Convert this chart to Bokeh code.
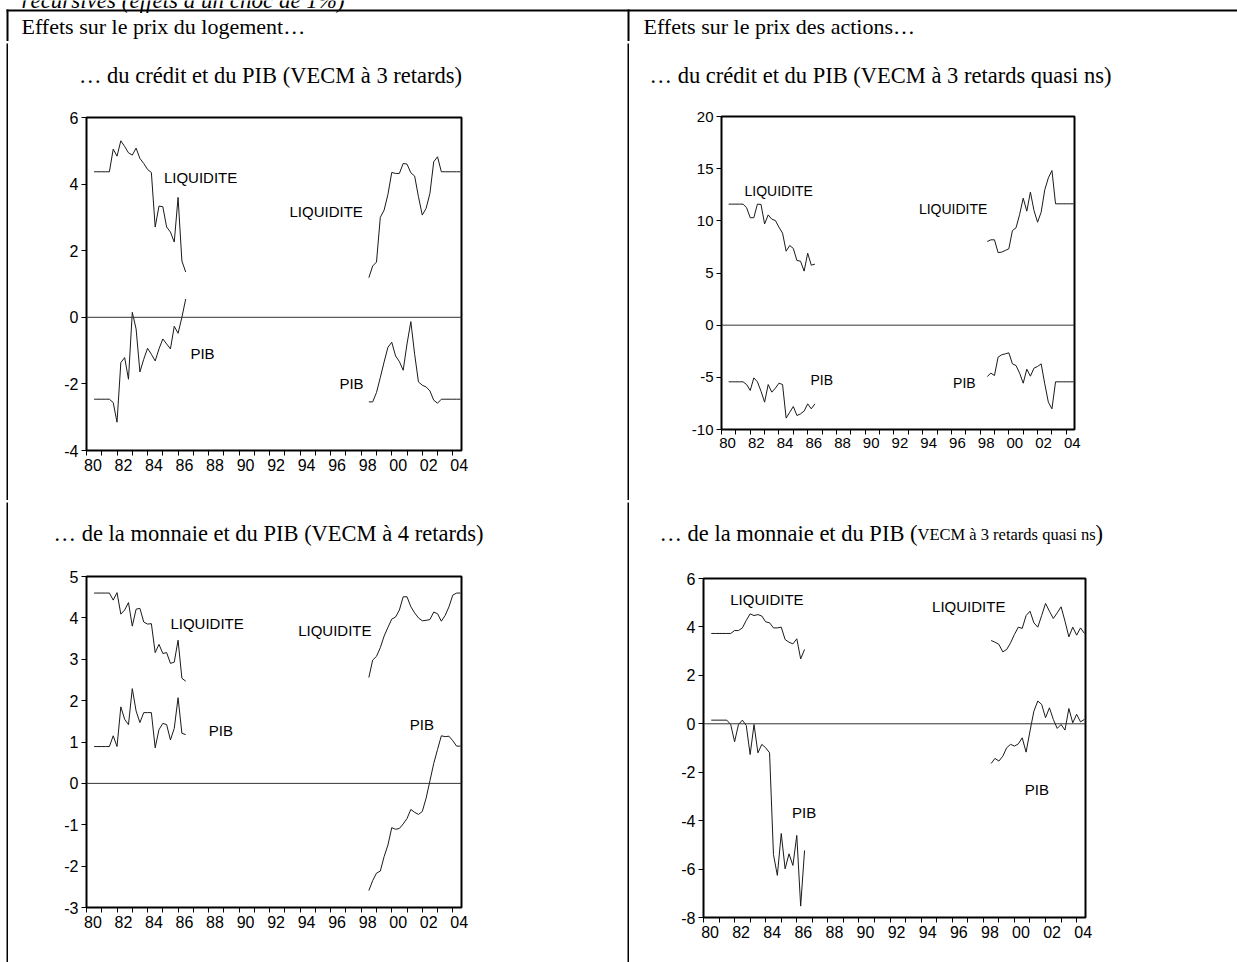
import pandas as pd
from bokeh.plotting import figure
from bokeh.layouts import column, row, Spacer
from bokeh.models import Range1d, FixedTicker, CustomJSTickFormatter, Span
from bokeh.core.properties import value
from bokeh.embed import file_html
from bokeh.resources import INLINE

# ---------------------------------------------------------------- data
# Two estimation windows, quarterly
early_periods = pd.period_range("1980Q3", "1986Q3", freq="Q")
late_periods = pd.period_range("1998Q3", "2004Q3", freq="Q")

# Housing prices: credit and GDP shocks (VECM, 3 lags)
hc_liq_early = [4.37, 4.37, 4.37, 4.37, 4.37, 5.05, 4.84, 5.30, 5.13, 4.94, 4.87, 5.08, 4.77,
                4.62, 4.44, 4.35, 2.71, 3.34, 3.32, 2.71, 2.56, 2.26, 3.60, 1.69, 1.36]
hc_liq_late = [1.19, 1.54, 1.66, 3.00, 3.22, 3.69, 4.35, 4.32, 4.32, 4.62, 4.60, 4.34, 4.24,
               3.62, 3.07, 3.27, 3.72, 4.67, 4.82, 4.37, 4.37, 4.37, 4.37, 4.37, 4.37]
hc_pib_early = [-2.46, -2.46, -2.46, -2.46, -2.46, -2.56, -3.15, -1.36, -1.21, -1.86, 0.15, -0.35, -1.64,
                -1.26, -0.93, -1.11, -1.31, -0.95, -0.65, -0.80, -0.95, -0.27, -0.48, 0.00, 0.55]
hc_pib_late = [-2.54, -2.54, -2.26, -1.81, -1.34, -0.90, -0.75, -1.16, -1.33, -1.59, -0.80, -0.13, -1.11,
               -1.94, -2.04, -2.09, -2.21, -2.49, -2.58, -2.46, -2.46, -2.46, -2.46, -2.46, -2.46]

# Stock prices: credit and GDP shocks (VECM, 3 lags)
sc_liq_early = [11.6, 11.6, 11.6, 11.6, 11.6, 11.25, 10.3, 10.3, 11.6, 11.57, 9.7, 10.57, 10.16,
                10.03, 9.39, 8.82, 7.09, 7.64, 7.35, 6.2, 6.13, 5.18, 6.9, 5.75, 5.85]
sc_liq_late = [8.02, 8.18, 8.18, 6.96, 7.0, 7.16, 7.32, 9.07, 9.33, 10.6, 12.17, 10.93, 12.75,
               10.99, 9.87, 10.83, 12.97, 14.12, 14.82, 11.63, 11.63, 11.63, 11.63, 11.63, 11.63]
sc_pib_early = [-5.43, -5.43, -5.43, -5.43, -5.43, -5.69, -6.26, -5.05, -5.43, -6.33, -7.38, -5.69, -6.42,
                -6.04, -5.56, -5.69, -8.91, -8.34, -7.8, -8.66, -8.5, -8.24, -7.54, -8.02, -7.54]
sc_pib_late = [-4.92, -4.6, -4.82, -3.07, -2.84, -2.75, -2.65, -3.71, -3.87, -4.6, -5.56, -4.22, -4.89,
               -4.12, -3.96, -3.71, -5.62, -7.38, -8.02, -5.43, -5.43, -5.43, -5.43, -5.43, -5.43]

# Housing prices: money and GDP shocks (VECM, 4 lags)
hm_liq_early = [4.6, 4.6, 4.6, 4.6, 4.6, 4.43, 4.61, 4.09, 4.19, 4.37, 3.8, 4.21, 4.23,
                3.9, 3.85, 3.86, 3.16, 3.36, 3.14, 3.16, 2.9, 2.93, 3.46, 2.54, 2.47]
hm_liq_late = [2.56, 2.98, 3.07, 3.28, 3.56, 3.77, 3.97, 4.02, 4.19, 4.51, 4.51, 4.27, 4.12,
               4.0, 3.93, 3.94, 3.96, 4.14, 4.1, 3.92, 4.06, 4.27, 4.55, 4.6, 4.6]
hm_pib_early = [0.89, 0.89, 0.89, 0.89, 0.89, 1.15, 0.89, 1.85, 1.55, 1.42, 2.29, 1.75, 1.47,
                1.71, 1.71, 1.71, 0.86, 1.3, 1.45, 1.42, 1.05, 1.33, 2.07, 1.21, 1.18]
hm_pib_late = [-2.59, -2.35, -2.17, -2.12, -1.77, -1.49, -1.07, -1.11, -1.09, -0.98, -0.85, -0.63, -0.7,
               -0.75, -0.68, -0.36, 0.06, 0.48, 0.82, 1.15, 1.13, 1.14, 1.03, 0.9, 0.9]

# Stock prices: money and GDP shocks (VECM, 3 lags)
sm_liq_early = [3.73, 3.73, 3.73, 3.73, 3.73, 3.73, 3.85, 3.85, 3.96, 4.27, 4.54, 4.47, 4.51,
                4.45, 4.21, 4.17, 3.96, 3.96, 3.99, 3.48, 3.37, 3.3, 3.51, 2.68, 3.07]
sm_liq_late = [3.44, 3.37, 3.28, 2.97, 3.07, 3.34, 3.69, 3.99, 3.94, 4.47, 4.65, 4.17, 3.99,
               4.47, 4.97, 4.65, 4.35, 4.58, 4.83, 4.24, 3.59, 3.99, 3.66, 3.96, 3.73]
sm_pib_early = [0.15, 0.15, 0.15, 0.15, 0.15, -0.03, -0.74, -0.03, 0.15, -0.07, -1.27, -0.03, -1.2,
                -0.85, -0.99, -1.2, -5.4, -6.26, -4.53, -5.99, -5.37, -5.85, -4.61, -7.53, -5.23]
sm_pib_late = [-1.64, -1.43, -1.54, -1.34, -0.99, -0.85, -0.92, -0.83, -0.58, -1.17, -0.3, 0.52, 0.94,
               0.8, 0.25, 0.66, 0.18, -0.19, -0.03, -0.26, 0.63, 0.04, 0.39, 0.08, 0.18]

# Axes
year_ticks = list(range(1980, 2005))
labelled_years = list(range(1980, 2005, 2))
hc_y_ticks = [-4, -2, 0, 2, 4, 6]
sc_y_ticks = [-10, -5, 0, 5, 10, 15, 20]
hm_y_ticks = [-3, -2, -1, 0, 1, 2, 3, 4, 5]
sm_y_ticks = [-8, -6, -4, -2, 0, 2, 4, 6]

SERIF = value("Liberation Serif")
SANS = value("Liberation Sans")


def decimal_year(periods):
    return [p.year + (p.quarter - 1) / 4 for p in periods]


x_early = decimal_year(early_periods)
x_late = decimal_year(late_periods)


def bare(w, h, **kw):
    f = figure(width=w, height=h, x_axis_type=None, y_axis_type=None,
               toolbar_location=None, output_backend="svg", min_border=0,
               outline_line_color=None, frame_align=False, **kw)
    f.grid.visible = False
    return f


def rule(w, h):
    return bare(w, h, background_fill_color="black", border_fill_color="black")


def title_panel(w, h, parts):
    f = bare(w, h, x_range=Range1d(0, w), y_range=Range1d(h, 0))
    for x, y, txt, size, align in parts:
        f.text(x=[x], y=[y], text=[txt], text_font=SERIF, text_font_size=size,
               text_align=align, text_baseline="middle", text_color="black")
    return f


def chart(w, h, borders, y_lim, y_ticks, series, labels, font_px=16, label_px=15):
    left, right, top, bottom = borders
    p = figure(width=w, height=h, x_range=Range1d(1980, 2004.57), y_range=Range1d(*y_lim),
               output_backend="svg", toolbar_location=None, frame_align=False,
               min_border_left=left, min_border_right=right,
               min_border_top=top, min_border_bottom=bottom,
               outline_line_color="black", outline_line_width=2,
               background_fill_color="white", border_fill_color="white")
    p.grid.visible = False

    xa = p.xaxis[0]
    xa.ticker = FixedTicker(ticks=[yr + 0.42 for yr in labelled_years], minor_ticks=year_ticks)
    xa.formatter = CustomJSTickFormatter(code="return String(Math.floor(tick) % 100).padStart(2, '0');")
    xa.major_tick_line_color = None
    xa.major_tick_out = 5
    xa.major_tick_in = 0
    xa.minor_tick_line_color = "black"
    xa.minor_tick_out = 5
    xa.minor_tick_in = 0
    xa.major_label_standoff = 3

    ya = p.yaxis[0]
    ya.ticker = FixedTicker(ticks=y_ticks)
    ya.formatter = CustomJSTickFormatter(code="return String(tick);")
    ya.major_tick_line_color = "black"
    ya.major_tick_out = 5
    ya.major_tick_in = 0
    ya.minor_tick_line_color = None
    ya.major_label_standoff = 3

    for ax in (xa, ya):
        ax.axis_line_color = None
        ax.major_label_text_font = "Liberation Sans"
        ax.major_label_text_font_size = f"{font_px}px"
        ax.major_label_text_color = "black"

    p.add_layout(Span(location=0, dimension="width", line_color="#333333", line_width=1))

    for xs, ys in series:
        p.line(xs, ys, line_color="#1a1a1a", line_width=1)

    for x, y, txt in labels:
        p.text(x=[x], y=[y], text=[txt], text_font=SANS, text_font_size=f"{label_px}px",
               text_baseline="middle", text_align="left", text_color="black")
    return p


# ---------------------------------------------------------------- page header
head = bare(1237, 41, x_range=Range1d(0, 1237), y_range=Range1d(41, 0))
head.quad(left=[6, 6, 627], right=[1237, 8, 629], top=[9, 9, 9], bottom=[11, 41, 41],
          color="black", line_color=None)
head.text(x=[21], y=[-0.5], text=["récursives (effets à un choc de 1%)"], text_font=SERIF,
          text_font_style="italic", text_font_size="23px", text_baseline="middle",
          text_color="black")
head.text(x=[21, 643], y=[26, 26],
          text=["Effets sur le prix du logement…", "Effets sur le prix des actions…"],
          text_font=SERIF, text_font_size="22px", text_baseline="middle", text_color="black")

# ---------------------------------------------------------------- panels
tl = column(
    title_panel(619, 62, [(262, 32, "… du crédit et du PIB (VECM à 3 retards)", "22.5px", "center")]),
    chart(619, 395, (78, 166, 12, 50), (-4, 6), hc_y_ticks,
          [(x_early, hc_liq_early), (x_late, hc_liq_late), (x_early, hc_pib_early), (x_late, hc_pib_late)],
          [(1985.07, 4.2, "LIQUIDITE"), (1993.3, 3.17, "LIQUIDITE"), (1986.81, -1.1, "PIB"), (1996.57, -2.0, "PIB")]),
    spacing=0)

tr = column(
    title_panel(608, 62, [(251, 32, "… du crédit et du PIB (VECM à 3 retards quasi ns)", "22.5px", "center")]),
    chart(608, 395, (92, 163, 11, 71), (-10, 20), sc_y_ticks,
          [(x_early, sc_liq_early), (x_late, sc_liq_late), (x_early, sc_pib_early), (x_late, sc_pib_late)],
          [(1981.6, 12.84, "LIQUIDITE"), (1993.74, 11.09, "LIQUIDITE"), (1986.19, -5.24, "PIB"), (1996.12, -5.5, "PIB")],
          font_px=15, label_px=14),
    spacing=0)

bl = column(
    title_panel(619, 62, [(260, 31, "… de la monnaie et du PIB (VECM à 4 retards)", "22.5px", "center")]),
    chart(619, 398, (78, 166, 12, 55), (-3, 5), hm_y_ticks,
          [(x_early, hm_liq_early), (x_late, hm_liq_late), (x_early, hm_pib_early), (x_late, hm_pib_late)],
          [(1985.5, 3.86, "LIQUIDITE"), (1993.87, 3.69, "LIQUIDITE"), (1988.01, 1.29, "PIB"), (2001.18, 1.43, "PIB")]),
    spacing=0)

br = column(
    title_panel(608, 62, [(288, 31, "… de la monnaie et du PIB (", "22.5px", "right"),
                          (288, 32, "VECM à 3 retards quasi ns", "16.5px", "left"),
                          (466, 31, ")", "22.5px", "left")]),
    chart(608, 398, (74, 152, 14, 45), (-8, 6), sm_y_ticks,
          [(x_early, sm_liq_early), (x_late, sm_liq_late), (x_early, sm_pib_early), (x_late, sm_pib_late)],
          [(1981.72, 5.13, "LIQUIDITE"), (1994.7, 4.86, "LIQUIDITE"), (1985.69, -3.68, "PIB"), (2000.67, -2.71, "PIB")]),
    spacing=0)

row1 = row(Spacer(width=6, height=457), rule(2, 457), tl, rule(2, 457), tr, spacing=0)
row2 = row(Spacer(width=6, height=460), rule(2, 460), bl, rule(2, 460), br, spacing=0)

page = column(
    head,
    row(Spacer(width=6, height=2), rule(1231, 2), spacing=0),
    row1,
    row(Spacer(width=6, height=2), rule(1231, 2), spacing=0),
    row2,
    spacing=0)

open("out.html", "w").write(file_html(page, INLINE))
